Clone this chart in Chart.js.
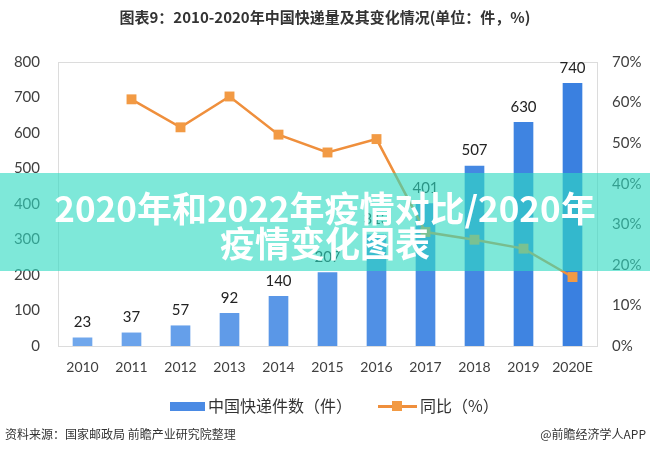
<!DOCTYPE html>
<html>
<head>
<meta charset="utf-8">
<script src="https://cdn.jsdelivr.net/npm/chart.js@4.4.0/dist/chart.umd.min.js"></script>
<style>
  body { margin: 0; background: #fff; }
  #wrap { position: relative; width: 650px; height: 452px; overflow: hidden; font-family: "Noto Sans CJK SC", sans-serif; }
  #chart { position: absolute; left: 0; top: 0; }
  .title { position: absolute; left: 0; width: 650px; top: 6px; text-align: center; font-size: 15px; font-weight: bold; color: #333; }
  .legend { position: absolute; top: 393px; left: 0; width: 650px; font-size: 16px; color: #333; }
  .legend span { position: absolute; top: 0; white-space: nowrap; }
  .lbox { position: absolute; left: 170px; top: 402px; width: 35px; height: 9px; background: #4a8ae4; }
  .lline { position: absolute; left: 378px; top: 405px; width: 39px; height: 3px; background: #ef8f3c; }
  .lmark { position: absolute; left: 392px; top: 401px; width: 10px; height: 10px; background: #f29a44; }
  .src { position: absolute; top: 425px; font-size: 12px; color: #333; white-space: nowrap; }
  .banner { position: absolute; left: 0; top: 173px; width: 650px; height: 98px; background: rgba(46,218,193,0.62); z-index: 2; }
  .banner div { position: absolute; left: 0; width: 650px; text-align: center; color: #fff; font-weight: bold; font-size: 35px; line-height: 36px; font-family: "Noto Sans CJK SC", sans-serif; }
</style>
</head>
<body>
<div id="wrap">
  <canvas id="chart" width="650" height="452"></canvas>
  <div class="title">图表9：2010-2020年中国快递量及其变化情况(单位：件，%)</div>
  <div class="lbox"></div>
  <div class="lline"></div>
  <div class="lmark"></div>
  <div class="legend">
    <span style="left:208px">中国快递件数（件）</span>
    <span style="left:420px">同比（%）</span>
  </div>
  <div class="src" style="left:5px">资料来源：国家邮政局 前瞻产业研究院整理</div>
  <div class="src" style="right:4px">@前瞻经济学人APP</div>
  <div class="banner">
    <div style="top:16px">2020年和2022年疫情对比/2020年</div>
    <div style="top:51px">疫情变化图表</div>
  </div>
</div>
<script>
const years = ['2010', '2011', '2012', '2013', '2014', '2015', '2016', '2017', '2018', '2019', '2020E'];
const parcels = [23, 37, 57, 92, 140, 207, 313, 401, 507, 630, 740];
const growth = [null, 60.8, 53.9, 61.5, 52.1, 47.7, 51.0, 28.1, 26.2, 24.0, 17.0];
const leftTicks = [0, 100, 200, 300, 400, 500, 600, 700, 800];
const rightTicks = [0, 10, 20, 30, 40, 50, 60, 70];

// bars go from light blue on the left to a deeper blue on the right
const barColors = years.map((y, i) => {
    const t = i / (years.length - 1);
    const r = Math.round(112 + (58 - 112) * t);
    const g = Math.round(167 + (128 - 167) * t);
    const b = Math.round(236 + (224 - 236) * t);
    return `rgb(${r},${g},${b})`;
});

const numFont = 'Lato, "Liberation Sans", sans-serif';

const framePlugin = {
    id: 'frame',
    beforeDatasetsDraw(chart) {
        const a = chart.chartArea;
        const ctx = chart.ctx;
        ctx.save();
        ctx.strokeStyle = '#dcdcdc';
        ctx.lineWidth = 1;
        ctx.strokeRect(Math.round(a.left) + 0.5, Math.round(a.top) + 0.5, Math.round(a.right - a.left), Math.round(a.bottom - a.top));
        ctx.restore();
    }
};

const barLabels = {
    id: 'barLabels',
    afterDatasetsDraw(chart) {
        const ctx = chart.ctx;
        const meta = chart.getDatasetMeta(0);
        ctx.save();
        ctx.font = '15px ' + numFont;
        ctx.fillStyle = '#222';
        ctx.textAlign = 'center';
        ctx.textBaseline = 'bottom';
        meta.data.forEach((bar, i) => {
            ctx.fillText(parcels[i], bar.x, bar.y - 8);
        });
        ctx.restore();
    }
};

new Chart(document.getElementById('chart'), {
    data: {
        labels: years,
        datasets: [{
            type: 'bar',
            label: '中国快递件数（件）',
            data: parcels,
            backgroundColor: barColors,
            barThickness: 19,
            yAxisID: 'y',
            order: 2
        }, {
            type: 'line',
            label: '同比（%）',
            data: growth,
            borderColor: '#ef8f3c',
            borderWidth: 2.5,
            backgroundColor: '#f29a44',
            pointStyle: 'rect',
            pointRadius: 7,
            pointBorderWidth: 0,
            yAxisID: 'y1',
            order: 1
        }]
    },
    options: {
        responsive: false,
        animation: false,
        layout: { padding: { top: 62, bottom: 66, left: 0, right: 0 } },
        plugins: {
            legend: { display: false },
            title: { display: false },
            tooltip: { enabled: false }
        },
        scales: {
            x: {
                grid: { display: false, drawTicks: false },
                border: { color: '#d0d0d0' },
                ticks: { font: { size: 14, family: numFont }, color: '#404040', padding: 13 },
                afterFit(s) { s.height = 40; }
            },
            y: {
                position: 'left',
                min: 0, max: 800,
                afterBuildTicks(s) { s.ticks = leftTicks.map(v => ({ value: v })); },
                grid: { display: false, drawTicks: false },
                border: { display: false },
                ticks: { font: { size: 15, family: numFont }, color: '#404040', padding: 18 },
                afterFit(s) { s.width = 58; }
            },
            y1: {
                position: 'right',
                min: 0, max: 70,
                afterBuildTicks(s) { s.ticks = rightTicks.map(v => ({ value: v })); },
                grid: { display: false, drawTicks: false },
                border: { display: false },
                ticks: { font: { size: 15, family: numFont }, color: '#404040', padding: 15, callback: v => v + '%' },
                afterFit(s) { s.width = 53; }
            }
        }
    },
    plugins: [framePlugin, barLabels]
});
</script>
</body>
</html>
